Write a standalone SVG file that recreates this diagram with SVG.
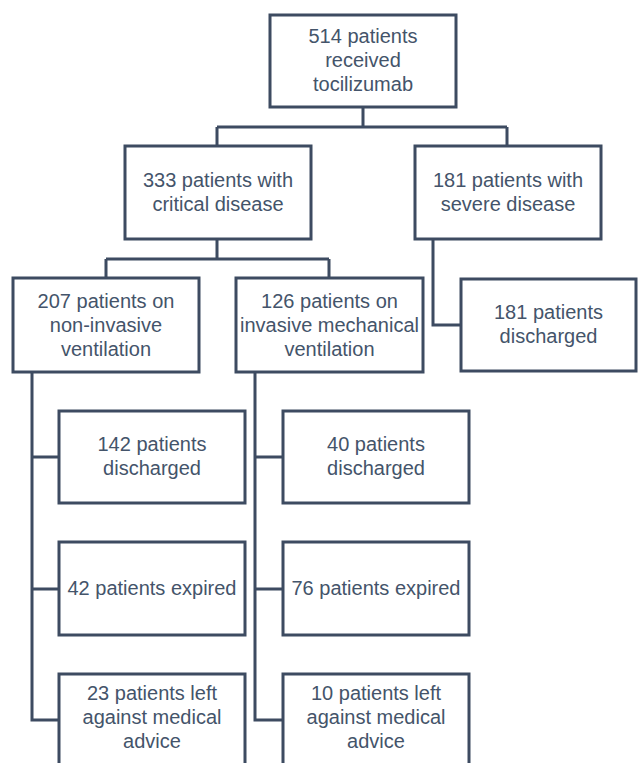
<svg xmlns="http://www.w3.org/2000/svg" width="638" height="763" viewBox="0 0 638 763">
<style>
.box{fill:#ffffff;stroke:#3d4b61;stroke-width:3}
.ln{fill:none;stroke:#3d4b61;stroke-width:3}
text{font-family:"Liberation Sans",Arial,sans-serif;font-size:20px;fill:#44546a;text-anchor:middle}
</style>
<rect width="638" height="763" fill="#ffffff"/>
<g id="connectors">
<path class="ln" d="M363 107V127M217 127H507M217 127V146M507 127V146"/>
<path class="ln" d="M217 239V259M106 259H329M106 259V278M329 259V278"/>
<path class="ln" d="M433 239V325H461"/>
<path class="ln" d="M32 372V720H59M32 457H59M32 589H59"/>
<path class="ln" d="M255 372V720H283M255 457H283M255 589H283"/>
</g>
<g id="n514"><rect class="box" x="270" y="15" width="186" height="92"/><text x="363" y="43">514 patients</text><text x="363" y="67">received</text><text x="363" y="91">tocilizumab</text></g>
<g id="n333"><rect class="box" x="125" y="146" width="186" height="93"/><text x="218" y="187">333 patients with</text><text x="218" y="211">critical disease</text></g>
<g id="n181"><rect class="box" x="415" y="146" width="186" height="93"/><text x="508" y="187">181 patients with</text><text x="508" y="211">severe disease</text></g>
<g id="n207"><rect class="box" x="13" y="278" width="186" height="94"/><text x="106" y="308">207 patients on</text><text x="106" y="332">non-invasive</text><text x="106" y="356">ventilation</text></g>
<g id="n126"><rect class="box" x="236" y="278" width="187" height="94"/><text x="329.5" y="308">126 patients on</text><text x="329.5" y="332">invasive mechanical</text><text x="329.5" y="356">ventilation</text></g>
<g id="n181d"><rect class="box" x="461" y="279" width="175" height="92"/><text x="548.5" y="319">181 patients</text><text x="548.5" y="343">discharged</text></g>
<g id="n142"><rect class="box" x="59" y="411" width="186" height="92"/><text x="152" y="451">142 patients</text><text x="152" y="475">discharged</text></g>
<g id="n42"><rect class="box" x="59" y="542" width="186" height="93"/><text x="152" y="595">42 patients expired</text></g>
<g id="n23"><rect class="box" x="59" y="674" width="186" height="100"/><text x="152" y="700">23 patients left</text><text x="152" y="724">against medical</text><text x="152" y="748">advice</text></g>
<g id="n40"><rect class="box" x="283" y="411" width="186" height="92"/><text x="376" y="451">40 patients</text><text x="376" y="475">discharged</text></g>
<g id="n76"><rect class="box" x="283" y="542" width="186" height="93"/><text x="376" y="595">76 patients expired</text></g>
<g id="n10"><rect class="box" x="283" y="674" width="186" height="100"/><text x="376" y="700">10 patients left</text><text x="376" y="724">against medical</text><text x="376" y="748">advice</text></g>
</svg>
